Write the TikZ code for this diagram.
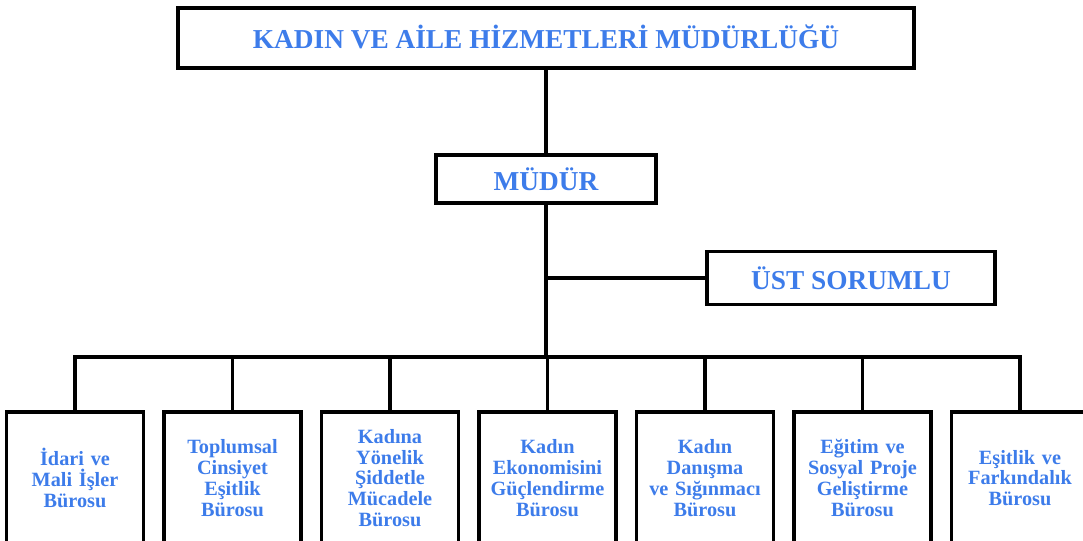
\documentclass[tikz,border=0pt]{standalone}
\usepackage{fontspec}
\setmainfont{Liberation Serif}
\usetikzlibrary{positioning}
\definecolor{unitblue}{RGB}{61,124,234}

\begin{document}
\begin{tikzpicture}[
		x=0.75pt, y=-0.75pt,
		unit/.style={draw, rectangle, line width=2.4pt, align=center, text=unitblue, font=\fontsize{20.5}{24}\selectfont\bfseries},
		office/.style={draw, rectangle, line width=2.4pt, minimum width=101pt, minimum height=99pt, text width=96pt, align=center, text=unitblue, font=\fontsize{15.2}{15.6}\selectfont\bfseries},
		link/.style={line width=2.4pt},
	]
	\useasboundingbox (0, 0) rectangle (1083, 541);
	\clip (0, 0) rectangle (1083, 541);

	% management
	\node[unit, minimum width=552pt, minimum height=45pt] (directorate) at (546, 38) {\raisebox{2pt}{KADIN VE AİLE HİZMETLERİ MÜDÜRLÜĞÜ}};
	\node[unit, minimum width=165pt, minimum height=36pt] (director) at (546, 179) {MÜDÜR};
	\node[unit, minimum width=216pt, minimum height=40pt] (deputy) at (851, 278) {ÜST SORUMLU};
	\coordinate (bus) at (546, 357);

	% offices
	\node[office] (admin) at (75, 478) {İdari ve \\ Mali İşler \\ Bürosu};
	\node[office] (gender) at (232.5, 478) {Toplumsal \\ Cinsiyet \\ Eşitlik \\ Bürosu};
	\node[office] (violence) at (390, 478) {Kadına \\ Yönelik \\ Şiddetle \\ Mücadele \\ Bürosu};
	\node[office] (economy) at (547.5, 478) {Kadın \\ Ekonomisini \\ Güçlendirme \\ Bürosu};
	\node[office] (shelter) at (705, 478) {Kadın \\ Danışma \\ ve Sığınmacı \\ Bürosu};
	\node[office] (project) at (862.5, 478) {Eğitim ve \\ Sosyal Proje \\ Geliştirme \\ Bürosu};
	\node[office] (awareness) at (1020, 478) {Eşitlik ve \\ Farkındalık \\ Bürosu};

	\draw[link] (directorate) -- (director);
	\draw[link] (director) -- (bus);
	\draw[link] (director.south |- deputy) -- (deputy.west);
	\draw[link] (admin.north) |- (bus) -| (awareness.north);
	\foreach \office in {gender, violence, economy, shelter, project}
		\draw[link] (\office.north) -- (\office.north |- bus);
\end{tikzpicture}
\end{document}
